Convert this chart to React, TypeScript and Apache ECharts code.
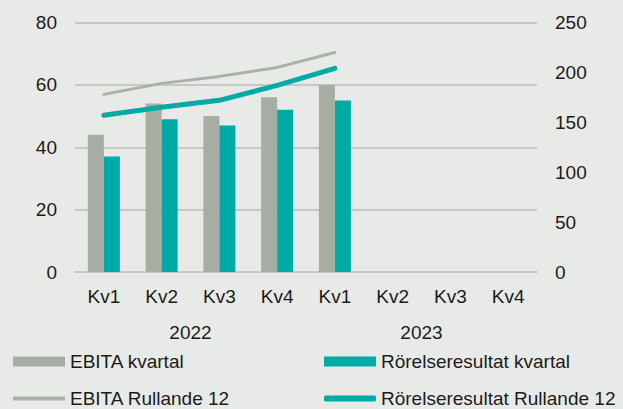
import React, { useEffect, useRef } from "react";
import * as echarts from "echarts";

const categories = ["Kv1", "Kv2", "Kv3", "Kv4", "Kv1", "Kv2", "Kv3", "Kv4"];
const years = ["2022", "2023"];
const ebitaKvartal = [44, 54, 50, 56, 60, null, null, null];
const rorelseKvartal = [37, 49, 47, 52, 55, null, null, null];
const ebitaRullande = [178, 189, 196, 205, 220, null, null, null];
const rorelseRullande = [157, 165, 172, 187, 204, null, null, null];

const GREY = "#a6aea3";
const TEAL = "#00aaa5";
const LINE_GREY = "#aab2a7";
const BG = "#e8eae8";
const TEXT = "#1b1b1b";
const FONT = "Liberation Sans, Arial, sans-serif";

export default function App() {
  const ref = useRef<HTMLDivElement>(null);
  useEffect(() => {
    if (!ref.current) return;
    const chart = echarts.init(ref.current, undefined, { renderer: "svg" });
    const textStyle = { color: TEXT, fontSize: 19, fontFamily: FONT };
    const legendText = { ...textStyle, lineHeight: 19 };
    chart.setOption({
      animation: false,
      backgroundColor: BG,
      textStyle: { fontFamily: FONT },
      grid: { left: 75, right: 86, top: 22.5, bottom: 137, containLabel: false },
      xAxis: [
        {
          type: "category",
          data: categories,
          axisLine: { show: true, lineStyle: { color: "#c6c8c4", width: 2 } },
          axisTick: { show: false },
          axisLabel: { ...textStyle, margin: 15 },
        },
        {
          type: "category",
          data: years,
          position: "bottom",
          offset: 36,
          axisLine: { show: false },
          axisTick: { show: false },
          axisLabel: { ...textStyle, margin: 15 },
        },
      ],
      yAxis: [
        {
          type: "value",
          min: 0,
          max: 80,
          interval: 20,
          axisLine: { show: false },
          axisTick: { show: false },
          axisLabel: { ...textStyle, margin: 18 },
          splitLine: { lineStyle: { color: "#c6c8c4", width: 2 } },
        },
        {
          type: "value",
          min: 0,
          max: 250,
          interval: 50,
          position: "right",
          axisLine: { show: false },
          axisTick: { show: false },
          axisLabel: { ...textStyle, margin: 18 },
          splitLine: { show: false },
        },
      ],
      legend: [
        {
          left: 13,
          top: 352,
          padding: 0,
          itemWidth: 52,
          itemHeight: 10,
          itemTextGap: 6,
          icon: "rect",
          textStyle: legendText,
          data: ["EBITA kvartal"],
        },
        {
          left: 324,
          top: 352,
          padding: 0,
          itemWidth: 52,
          itemHeight: 10,
          itemTextGap: 6,
          icon: "rect",
          textStyle: legendText,
          data: ["Rörelseresultat kvartal"],
        },
        {
          left: 13,
          top: 389,
          padding: 0,
          itemWidth: 52,
          itemHeight: 4,
          itemTextGap: 6,
          icon: "roundRect",
          textStyle: legendText,
          data: ["EBITA Rullande 12"],
        },
        {
          left: 324,
          top: 389,
          padding: 0,
          itemWidth: 52,
          itemHeight: 6,
          itemTextGap: 6,
          icon: "roundRect",
          textStyle: legendText,
          data: ["Rörelseresultat Rullande 12"],
        },
      ],
      series: [
        {
          name: "EBITA kvartal",
          type: "bar",
          data: ebitaKvartal,
          barWidth: 16,
          barGap: "0%",
          itemStyle: { color: GREY },
        },
        {
          name: "Rörelseresultat kvartal",
          type: "bar",
          data: rorelseKvartal,
          barWidth: 16,
          barGap: "0%",
          itemStyle: { color: TEAL },
        },
        {
          name: "EBITA Rullande 12",
          type: "line",
          yAxisIndex: 1,
          data: ebitaRullande,
          symbol: "none",
          itemStyle: { color: LINE_GREY },
          lineStyle: { color: LINE_GREY, width: 3, cap: "round" },
        },
        {
          name: "Rörelseresultat Rullande 12",
          type: "line",
          yAxisIndex: 1,
          data: rorelseRullande,
          symbol: "none",
          itemStyle: { color: TEAL },
          lineStyle: { color: TEAL, width: 5, cap: "round" },
        },
      ],
    });
    return () => chart.dispose();
  }, []);
  return (
    <div
      ref={ref}
      style={{ position: "absolute", left: 0, top: 0, width: 623, height: 409 }}
    />
  );
}
